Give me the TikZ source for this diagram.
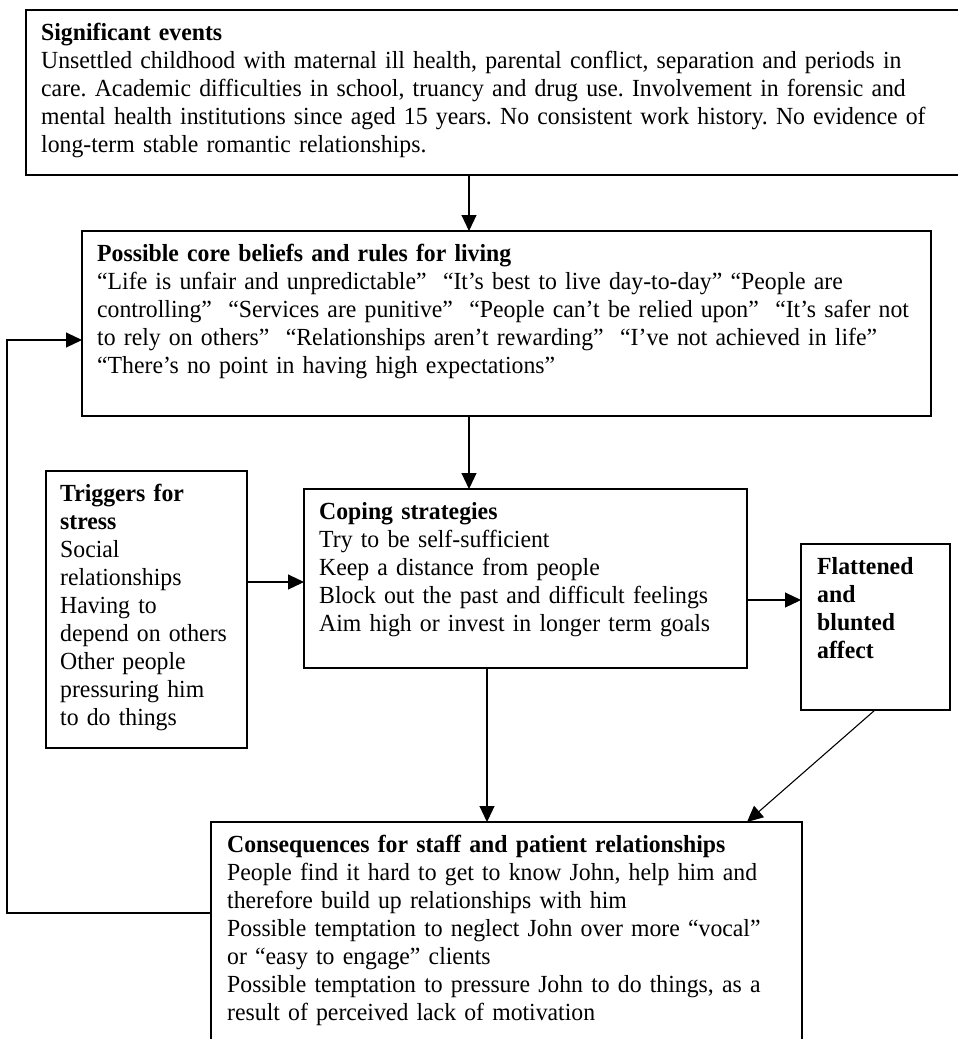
\documentclass[tikz,border=0pt]{standalone}
\usepackage{fontspec}
\setmainfont[FakeStretch=0.965]{Liberation Serif}
\usetikzlibrary{arrows.meta}
\begin{document}
\frenchspacing
\begin{tikzpicture}[x=1pt,y=-1pt,
  box/.style={draw=black, line width=1.3pt, inner sep=0pt, outer sep=0pt, anchor=north west},
  txt/.style={anchor=base west, inner sep=0pt, text width=1000pt, align=left, font=\fontsize{24.6}{28.1}\selectfont\frenchspacing},
  arr/.style={line width=1.1pt, -{Triangle[length=16pt,width=15pt]}},
  link/.style={line width=1.1pt}]
\useasboundingbox (0,0) rectangle (958,1039);
% boxes
\node[box, minimum width=949pt, minimum height=165pt] (b1) at (26,10) {};
\node[box, minimum width=849pt, minimum height=185pt] (b2) at (82,231) {};
\node[box, minimum width=201pt, minimum height=277pt] (b3) at (46,471) {};
\node[box, minimum width=443pt, minimum height=179pt] (b4) at (304,489) {};
\node[box, minimum width=149pt, minimum height=166pt] (b5) at (801,544) {};
\node[box, minimum width=591pt, minimum height=240pt] (b6) at (211,822) {};
% texts
\node[txt] (t1) at ([shift={(15,30)}]b1.north west) {\textbf{Significant events}\\
Unsettled childhood with maternal ill health, parental conflict, separation and periods in\\
care. Academic difficulties in school, truancy and drug use. Involvement in forensic and\\
mental health institutions since aged 15 years. No consistent work history. No evidence of\\
long-term stable romantic relationships.};
\node[txt] (t2) at ([shift={(15,30)}]b2.north west) {\textbf{Possible core beliefs and rules for living}\\
“Life is unfair and unpredictable”\ \ “It’s best to live day-to-day” “People are\\
controlling”\ \ “Services are punitive”\ \ “People can’t be relied upon”\ \ “It’s safer not\\
to rely on others”\ \ “Relationships aren’t rewarding”\ \ “I’ve not achieved in life”\\
“There’s no point in having high expectations”};
\node[txt] (t3) at ([shift={(14,30)}]b3.north west) {\textbf{Triggers for}\\
\textbf{stress}\\
Social\\
relationships\\
Having to\\
depend on others\\
Other people\\
pressuring him\\
to do things};
\node[txt] (t4) at ([shift={(15,30)}]b4.north west) {\textbf{Coping strategies}\\
Try to be self-sufficient\\
Keep a distance from people\\
Block out the past and difficult feelings\\
Aim high or invest in longer term goals};
\node[txt] (t5) at ([shift={(16,30)}]b5.north west) {\textbf{Flattened}\\
\textbf{and}\\
\textbf{blunted}\\
\textbf{affect}};
\node[txt] (t6) at ([shift={(16,30)}]b6.north west) {\textbf{Consequences for staff and patient relationships}\\
People find it hard to get to know John, help him and\\
therefore build up relationships with him\\
Possible temptation to neglect John over more “vocal”\\
or “easy to engage” clients\\
Possible temptation to pressure John to do things, as a\\
result of perceived lack of motivation};
% helper coordinates
\coordinate (xa) at (469,0);
\coordinate (xb) at (487,0);
\coordinate (ya) at (0,582);
\coordinate (yb) at (0,600);
\coordinate (d1) at (875,0);
\coordinate (d2) at (747,0);
\coordinate (c1) at (7,913);
\coordinate (c2) at (7,340);
% connectors
\draw[arr] (b1.south -| xa) -- (b2.north -| xa);
\draw[arr] (b2.south -| xa) -- (b4.north -| xa);
\draw[arr] (b3.east |- ya) -- (b4.west |- ya);
\draw[arr] (b4.east |- yb) -- (b5.west |- yb);
\draw[arr] (b4.south -| xb) -- (b6.north -| xb);
\draw[arr] (b5.south -| d1) -- (b6.north -| d2);
\draw[arr] (b6.west |- c1) -- (c1) -- (c2) -- (b2.west |- c2);
\end{tikzpicture}
\end{document}
